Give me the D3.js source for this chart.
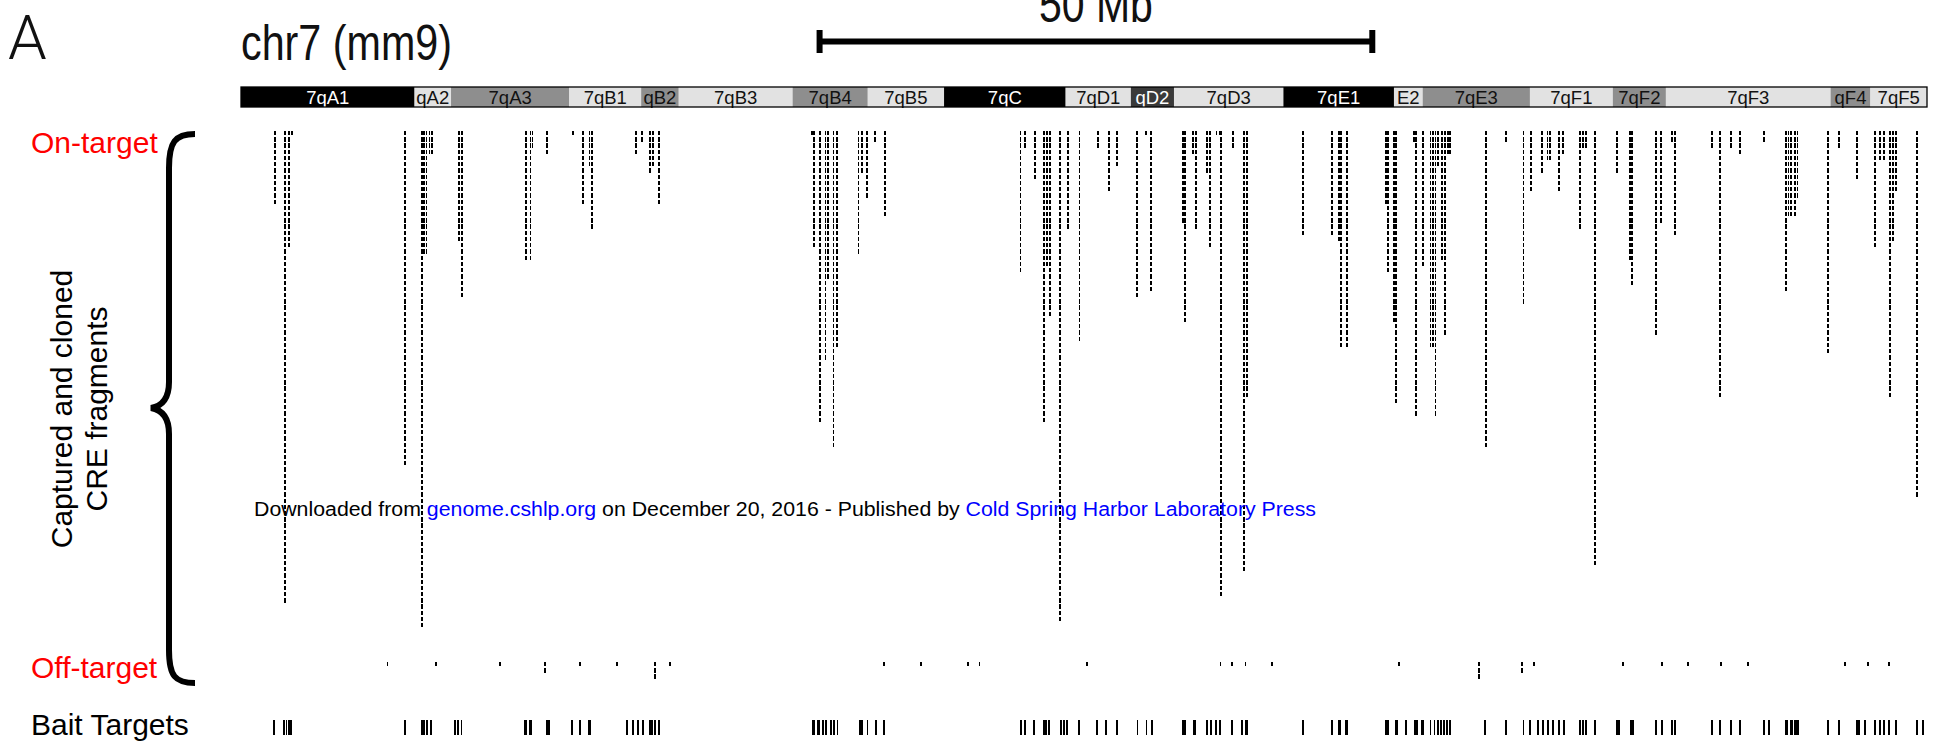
<!DOCTYPE html>
<html>
<head>
<meta charset="utf-8">
<script src="https://cdn.jsdelivr.net/npm/d3@7"></script>
<style>
html, body { margin: 0; padding: 0; background: #fff; }
svg { display: block; }
text { font-family: "Liberation Sans", Arial, Helvetica, sans-serif; }
</style>
</head>
<body>
<svg id="chart" width="1949" height="750"></svg>
<script>
// chr7 (mm9) length in Mb
const chromLenMb = 152.52;

// Cytogenetic bands (Mb) as labelled on the ideogram
const bandNames  = ["7qA1","qA2","7qA3","7qB1","qB2","7qB3","7qB4","7qB5","7qC","7qD1","qD2","7qD3","7qE1","E2","7qE3","7qF1","7qF2","7qF3","qF4","7qF5"];
const bandStarts = [0, 15.7, 19.0, 29.7, 36.2, 39.6, 49.9, 56.7, 63.6, 74.6, 80.5, 84.4, 94.3, 104.3, 106.9, 116.6, 124.1, 128.9, 143.8, 147.4];
const bandEnds   = [15.7, 19.0, 29.7, 36.2, 39.6, 49.9, 56.7, 63.6, 74.6, 80.5, 84.4, 94.3, 104.3, 106.9, 116.6, 124.1, 128.9, 143.8, 147.4, 152.52];
const bandStains = ["gpos100","gneg","gpos50","gneg","gpos50","gneg","gpos50","gneg","gpos100","gneg","gpos75","gneg","gpos100","gneg","gpos50","gneg","gpos50","gneg","gpos50","gneg"];

// Scale bar
const scaleBarStartMb = 52.34;
const scaleBarLenMb = 50;
const scaleBarLabel = "50 Mb";

// Captured and cloned CRE fragments: locus (Mb) and number of stacked fragments
const fragMb = [3.04, 3.96, 4.31, 4.64, 14.84, 16.37, 16.55, 16.78, 17.05, 17.28, 19.72, 19.99, 25.78, 26.19, 26.37, 27.68, 30.03, 30.90, 31.53, 31.75, 35.71, 36.28, 37.00, 37.24, 37.81,
  51.66, 51.82, 52.34, 52.87, 53.10, 53.60, 53.92, 55.86, 56.14, 56.63, 57.39, 58.24,
  70.52, 70.92, 71.81, 72.62, 72.90, 73.22, 74.12, 74.80, 75.85, 77.51, 78.56, 79.28, 81.02, 81.83, 82.31,
  85.22, 85.40, 86.15, 86.37, 87.36, 87.64, 88.25, 88.52, 88.65, 89.71, 90.72, 91.04,
  96.05, 98.67, 99.29, 99.50, 100.02, 103.54, 103.74, 104.31, 104.49, 106.12, 106.30, 106.93, 107.60, 107.83, 108.06, 108.30, 108.62, 108.92, 109.16, 109.37,
  112.61, 114.41, 116.02, 116.70, 117.70, 118.19, 118.42, 119.20, 119.58, 121.15, 121.40, 121.68, 122.46, 124.44, 125.68, 125.87,
  128.01, 128.49, 129.43, 129.69, 133.05, 133.77, 134.75, 135.57, 137.74, 139.77, 139.99, 140.25, 140.55, 140.81,
  143.54, 144.59, 146.19, 147.85, 148.30, 148.60, 149.16, 149.45, 149.72, 151.59];
const fragCount = [12, 76, 19, 1, 54, 80, 20, 20, 4, 4, 18, 27, 21, 21, 3, 4, 1, 12, 6, 16, 4, 2, 7, 6, 12,
  1, 19, 47, 37, 24, 51, 35, 20, 7, 11, 2, 14,
  23, 3, 8, 47, 22, 30, 79, 16, 34, 3, 10, 6, 27, 1, 26,
  15, 31, 4, 16, 7, 19, 1, 1, 75, 3, 71, 43,
  17, 17, 18, 35, 35, 12, 23, 31, 44, 2, 46, 22, 35, 35, 46, 6, 21, 33, 4, 4,
  51, 2, 28, 10, 7, 5, 5, 10, 4, 16, 3, 3, 70, 7, 21, 25,
  33, 15, 2, 17, 3, 43, 3, 4, 2, 26, 14, 14, 14, 11,
  36, 3, 8, 19, 5, 5, 43, 18, 10, 59];

// Off-target fragments: locus (Mb) and count
const offMb    = [13.25, 17.61, 23.43, 27.47, 30.67, 34.01, 37.45, 38.77, 58.17, 61.52, 65.77, 66.81, 76.50, 88.61, 89.65, 90.87, 93.27, 104.79, 112.00, 115.89, 116.97, 125.02, 128.55, 130.90, 133.88, 136.33, 145.10, 147.18, 149.05];
const offCount = [1, 1, 1, 2, 1, 1, 3, 1, 1, 1, 1, 1, 1, 1, 1, 1, 1, 1, 3, 2, 1, 1, 1, 1, 1, 1, 1, 1, 1];

// Bait targets: centre (Mb) and span (kb)
const baitMb = [3.03, 3.89, 4.12, 4.34, 4.52, 14.84, 16.46, 16.83, 17.19, 19.36, 19.63, 19.95, 25.74, 26.19, 27.77, 29.94, 30.67, 31.57,
  34.92, 35.46, 35.91, 36.37, 36.96, 37.18, 37.45, 37.81,
  51.78, 52.23, 52.63, 52.95, 53.36, 53.65, 53.96, 56.07, 56.67, 57.47, 58.20,
  70.52, 70.92, 71.74, 72.62, 72.86, 73.10, 74.15, 74.43, 74.72, 75.85, 77.47, 78.27, 79.28, 81.10, 81.91, 82.40,
  85.33, 86.30, 87.36, 87.77, 88.17, 88.57, 89.65, 90.59, 90.95,
  96.10, 98.72, 99.36, 100.00, 103.67, 104.53, 105.35, 106.30, 106.88, 107.60, 107.97, 108.27, 108.53, 108.83, 109.10, 109.35,
  112.57, 114.41, 116.02, 116.58, 117.33, 117.82, 118.26, 118.72, 119.21, 119.66, 121.15, 121.41, 121.64, 122.46,
  124.54, 125.84, 128.01, 128.53, 129.43, 129.69, 133.05, 133.81, 134.75, 135.61, 137.74, 138.19, 139.83, 140.22, 140.70,
  143.54, 144.59, 146.26, 146.91, 147.85, 148.23, 148.60, 149.05, 149.72, 151.59, 152.16];
const baitKb = [180, 150, 150, 150, 150, 230, 360, 180, 230, 150, 150, 150, 270, 270, 360, 180, 180, 270,
  180, 180, 180, 180, 180, 150, 150, 150,
  330, 240, 150, 150, 150, 150, 150, 360, 170, 170, 170,
  180, 180, 180, 170, 170, 170, 170, 170, 170, 180, 170, 170, 170, 170, 170, 170,
  400, 270, 170, 170, 170, 170, 170, 170, 230,
  180, 170, 230, 230, 360, 360, 180, 360, 300, 170, 170, 170, 170, 170, 170, 170,
  180, 180, 170, 170, 170, 170, 170, 170, 170, 170, 170, 170, 170, 170,
  330, 300, 170, 170, 170, 170, 170, 170, 170, 170, 170, 170, 300, 270, 450,
  170, 170, 330, 170, 170, 170, 170, 170, 170, 170, 170];

const stainFill = { gpos100: "#000000", gpos75: "#3a3a3a", gpos50: "#8e8e8e", gneg: "#e2e2e2" };
const stainText = { gpos100: "#ffffff", gpos75: "#ffffff", gpos50: "#111111", gneg: "#111111" };

const svg = d3.select("#chart");
const x = d3.scaleLinear().domain([0, chromLenMb]).range([241, 1927]);
const fragRow = d3.scaleLinear().domain([0, 1]).range([131, 137.23]);
const offRow = d3.scaleLinear().domain([0, 1]).range([662, 668.2]);
const fragSpanMb = 0.17;
const dashH = 4.3;

// Panel letter and title
svg.append("text").attr("x", 8).attr("y", 59)
  .style("font-family", "Roboto, 'Liberation Sans', sans-serif").style("font-weight", 300)
  .attr("font-size", 62).attr("fill", "#111").text("A");
svg.append("text").attr("x", 241).attr("y", 60)
  .attr("font-size", 50).attr("textLength", 211).attr("lengthAdjust", "spacingAndGlyphs")
  .attr("fill", "#111").text("chr7 (mm9)");

// Scale bar
const sb = svg.append("g");
const sbx0 = x(scaleBarStartMb), sbx1 = x(scaleBarStartMb + scaleBarLenMb);
sb.append("line").attr("x1", sbx0).attr("x2", sbx1).attr("y1", 41.5).attr("y2", 41.5)
  .attr("stroke", "#000").attr("stroke-width", 6);
[sbx0, sbx1].forEach(px => sb.append("line").attr("x1", px).attr("x2", px).attr("y1", 30).attr("y2", 53)
  .attr("stroke", "#000").attr("stroke-width", 6));
sb.append("text").attr("x", (sbx0 + sbx1) / 2).attr("y", 22).attr("text-anchor", "middle")
  .attr("font-size", 50).attr("textLength", 114).attr("lengthAdjust", "spacingAndGlyphs")
  .attr("fill", "#111").text(scaleBarLabel);

// Ideogram
const bands = bandNames.map((n, i) => ({ name: n, s: bandStarts[i], e: bandEnds[i], stain: bandStains[i] }));
const ideo = svg.append("g");
ideo.selectAll("rect.band").data(bands).join("rect").attr("class", "band")
  .attr("x", d => x(d.s)).attr("width", d => x(d.e) - x(d.s))
  .attr("y", 87).attr("height", 20).attr("fill", d => stainFill[d.stain]);
ideo.selectAll("text").data(bands).join("text")
  .attr("x", d => (x(d.s) + x(d.e)) / 2).attr("y", 103.5).attr("text-anchor", "middle")
  .attr("font-size", 18.5).attr("fill", d => stainText[d.stain]).text(d => d.name);
ideo.append("rect").attr("x", x(0)).attr("y", 87).attr("width", x(chromLenMb) - x(0)).attr("height", 20)
  .attr("fill", "none").attr("stroke", "#000").attr("stroke-width", 1.3);

// Captured fragments, stacked per locus
const frags = [];
fragMb.forEach((mb, i) => { for (let r = 0; r < fragCount[i]; r++) frags.push({ mb, r }); });
svg.append("g").attr("shape-rendering", "crispEdges")
  .selectAll("rect").data(frags).join("rect")
  .attr("x", d => x(d.mb - fragSpanMb / 2)).attr("width", x(fragSpanMb) - x(0))
  .attr("y", d => fragRow(d.r)).attr("height", dashH).attr("fill", "#000");

// Off-target fragments
const offs = [];
offMb.forEach((mb, i) => { for (let r = 0; r < offCount[i]; r++) offs.push({ mb, r }); });
svg.append("g").attr("shape-rendering", "crispEdges")
  .selectAll("rect").data(offs).join("rect")
  .attr("x", d => x(d.mb - fragSpanMb / 2)).attr("width", x(fragSpanMb) - x(0))
  .attr("y", d => offRow(d.r)).attr("height", dashH).attr("fill", "#000");

// Bait targets
const baits = baitMb.map((mb, i) => ({ mb, kb: baitKb[i] }));
svg.append("g").attr("shape-rendering", "crispEdges")
  .selectAll("rect").data(baits).join("rect")
  .attr("x", d => x(d.mb - d.kb / 2000)).attr("width", d => Math.max(1.5, x(d.kb / 1000) - x(0)))
  .attr("y", 720).attr("height", 15).attr("fill", "#000");

// Track labels
svg.append("text").attr("x", 31).attr("y", 153).attr("font-size", 30).attr("fill", "#ff0000").text("On-target");
svg.append("text").attr("x", 31).attr("y", 678).attr("font-size", 30).attr("fill", "#ff0000").text("Off-target");
svg.append("text").attr("x", 31).attr("y", 735).attr("font-size", 30).attr("fill", "#000").text("Bait Targets");

// Brace spanning the fragment tracks
svg.append("path")
  .attr("d", "M195,134 C175,134 169,142 169,168 L169,382 C169,398 163,406 151,408 C163,410 169,418 169,434 L169,650 C169,676 175,683 195,683")
  .attr("fill", "none").attr("stroke", "#000").attr("stroke-width", 6);

// Rotated axis title
const rt = svg.append("text").attr("transform", "translate(72,409) rotate(-90)")
  .attr("text-anchor", "middle").attr("font-size", 30).attr("fill", "#000");
rt.append("tspan").attr("x", 0).attr("y", 0).text("Captured and cloned");
rt.append("tspan").attr("x", 0).attr("y", 35).text("CRE fragments");

// Download notice
const dl = svg.append("text").attr("x", 254).attr("y", 516).attr("font-size", 20)
  .attr("textLength", 1062).attr("lengthAdjust", "spacingAndGlyphs").attr("fill", "#000");
dl.append("tspan").text("Downloaded from ");
dl.append("tspan").attr("fill", "#0000ff").text("genome.cshlp.org");
dl.append("tspan").text(" on December 20, 2016 - Published by ");
dl.append("tspan").attr("fill", "#0000ff").text("Cold Spring Harbor Laboratory Press");
</script>
</body>
</html>
